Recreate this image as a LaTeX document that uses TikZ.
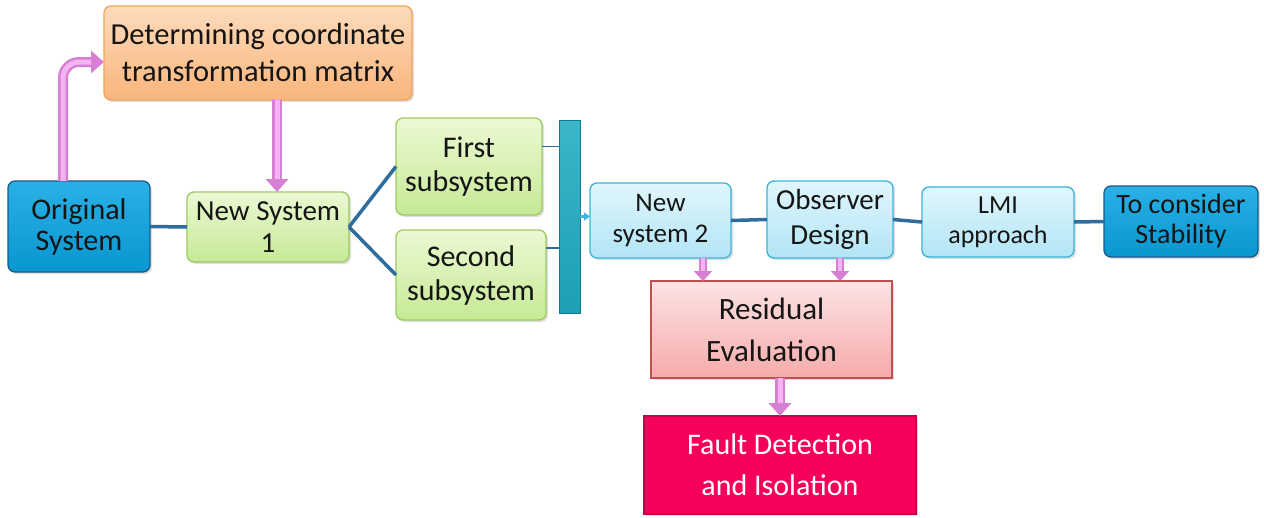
\documentclass[tikz,border=0pt]{standalone}
\usepackage{fontspec}
\setmainfont{Carlito}
\usetikzlibrary{arrows.meta,shadows,calc}
\definecolor{conn}{HTML}{2F6D9E}
\definecolor{pinkout}{HTML}{D77FD3}
\definecolor{pinkin}{HTML}{F5B3F2}
\definecolor{cF5A35A}{HTML}{F5A35A}
\definecolor{cFDDBBB}{HTML}{FDDBBB}
\definecolor{cF9B57C}{HTML}{F9B57C}
\definecolor{c1C5A85}{HTML}{1C5A85}
\definecolor{c2AB0E6}{HTML}{2AB0E6}
\definecolor{c0897CF}{HTML}{0897CF}
\definecolor{c9CCB64}{HTML}{9CCB64}
\definecolor{cEBF9D3}{HTML}{EBF9D3}
\definecolor{cC6E996}{HTML}{C6E996}
\definecolor{c3BB4DC}{HTML}{3BB4DC}
\definecolor{cE0F6FC}{HTML}{E0F6FC}
\definecolor{cB2E5F6}{HTML}{B2E5F6}
\definecolor{cC0504D}{HTML}{C0504D}
\definecolor{cFDE3E3}{HTML}{FDE3E3}
\definecolor{cF5ABAB}{HTML}{F5ABAB}
\definecolor{cC8004A}{HTML}{C8004A}
\definecolor{cF5005A}{HTML}{F5005A}
\definecolor{barfill}{HTML}{1E9FB3}
\definecolor{bartop}{HTML}{3CB6C8}
\definecolor{bardraw}{HTML}{137C8C}
\definecolor{txt}{HTML}{151515}
\tikzset{
  box/.style={rounded corners=7pt, inner sep=0pt, outer sep=0pt, line width=1.3pt, align=center, text=txt,
    drop shadow={opacity=0.25, shadow xshift=2pt, shadow yshift=-2pt}},
  orangebox/.style={box, draw=cF5A35A, top color=cFDDBBB, bottom color=cF9B57C, font=\fontsize{30.5}{37}\selectfont},
  bluebox/.style={box, draw=c1C5A85, top color=c2AB0E6, bottom color=c0897CF, font=\fontsize{30}{31}\selectfont},
  greenbox/.style={box, draw=c9CCB64, top color=cEBF9D3, bottom color=cC6E996, font=\fontsize{30}{34}\selectfont},
  cyanbox/.style={box, draw=c3BB4DC, top color=cE0F6FC, bottom color=cB2E5F6, font=\fontsize{27}{31}\selectfont},
  redbox/.style={box, rounded corners=0pt, draw=cC0504D, top color=cFDE3E3, bottom color=cF5ABAB, font=\fontsize{31}{42}\selectfont},
  faultbox/.style={box, rounded corners=0pt, draw=cC8004A, fill=cF5005A, text=white, font=\fontsize{30}{41}\selectfont},
  link/.style={draw=conn, line width=3.5pt},
  thinlink/.style={draw=conn, line width=1.6pt},
  fat/.style={draw=pinkout, line width=10pt, -{Triangle[width=22pt,length=13pt]},
    postaction={draw=pinkin, line width=5pt, shorten >=13pt, -}},
  fatsmall/.style={draw=pinkout, line width=8pt, -{Triangle[width=18pt,length=10pt]},
    postaction={draw=pinkin, line width=4pt, shorten >=10pt, -}},
}
\begin{document}
\begin{tikzpicture}[x=1pt,y=-1pt]
\useasboundingbox (0,0) rectangle (1264,517);
\fill[white] (0,0) rectangle (1264,517);

\node[orangebox, minimum width=308pt, minimum height=94pt] (det) at (258,53) {Determining coordinate\\transformation matrix};
\node[bluebox, minimum width=142pt, minimum height=91pt] (orig) at (79,226.5) {Original\\System};
\node[greenbox, font=\fontsize{29}{32}\selectfont, minimum width=162pt, minimum height=70pt] (ns1) at (268,227) {New System\\1};
\node[greenbox, minimum width=146pt, minimum height=97pt] (first) at (469,166.5) {First\\subsystem};
\node[greenbox, minimum width=150pt, minimum height=90pt] (second) at (471,275) {Second\\subsystem};
\node[inner sep=0pt, outer sep=0pt, draw=bardraw, line width=1pt, top color=bartop, bottom color=barfill,
  minimum width=21pt, minimum height=193pt] (bar) at (569.5,216.5) {};
\node[cyanbox, minimum width=141pt, minimum height=75pt] (ns2) at (660.5,220.5) {New\\system 2};
\node[cyanbox, font=\fontsize{29}{35}\selectfont, minimum width=126pt, minimum height=77pt] (obs) at (830,219.5) {Observer\\Design};
\node[cyanbox, font=\fontsize{26}{30}\selectfont, minimum width=152pt, minimum height=70pt] (lmi) at (998,222) {LMI\\approach};
\node[bluebox, font=\fontsize{28}{30}\selectfont, minimum width=154pt, minimum height=71pt] (stab) at (1181,221.5) {To consider\\Stability};
\node[redbox, minimum width=241pt, minimum height=97pt] (res) at (771.5,329.5) {Residual\\Evaluation};
\node[faultbox, minimum width=272pt, minimum height=98pt] (fault) at (780,465) {Fault Detection\\and Isolation};

% connectors
\draw[link] (orig.east) -- (ns1.west);
\draw[link] (ns1.east) -- (first.west);
\draw[link] (ns1.east) -- (second.west);
\draw[thinlink] ([yshift=20pt]first.east) -- ([yshift=20pt]first.east -| bar.west);
\draw[thinlink] ([yshift=27pt]second.east) -- ([yshift=27pt]second.east -| bar.west);
\draw[draw=c3BB4DC, line width=2.5pt, -{Triangle[width=8pt,length=6pt]}] ([yshift=4pt]bar.east |- ns2.west) -- ([yshift=4pt]ns2.west);
\draw[link] (ns2.east) -- (obs.west);
\draw[link] (obs.east) -- (lmi.west);
\draw[link] (lmi.east) -- (stab.west);

% pink arrows
\draw[fat, rounded corners=16pt] ([xshift=-16pt]orig.north) |- ([yshift=-9pt]det.west);
\draw[fat] ([xshift=19pt]det.south) -- ([xshift=19pt]det.south |- ns1.north);
\draw[fatsmall] ([xshift=42.5pt]ns2.south) -- ([xshift=42.5pt]ns2.south |- res.north);
\draw[fatsmall] ([xshift=10pt]obs.south) -- ([xshift=10pt]obs.south |- res.north);
\draw[fat] ([xshift=8.5pt]res.south) -- ([xshift=8.5pt]res.south |- fault.north);
\end{tikzpicture}
\end{document}
